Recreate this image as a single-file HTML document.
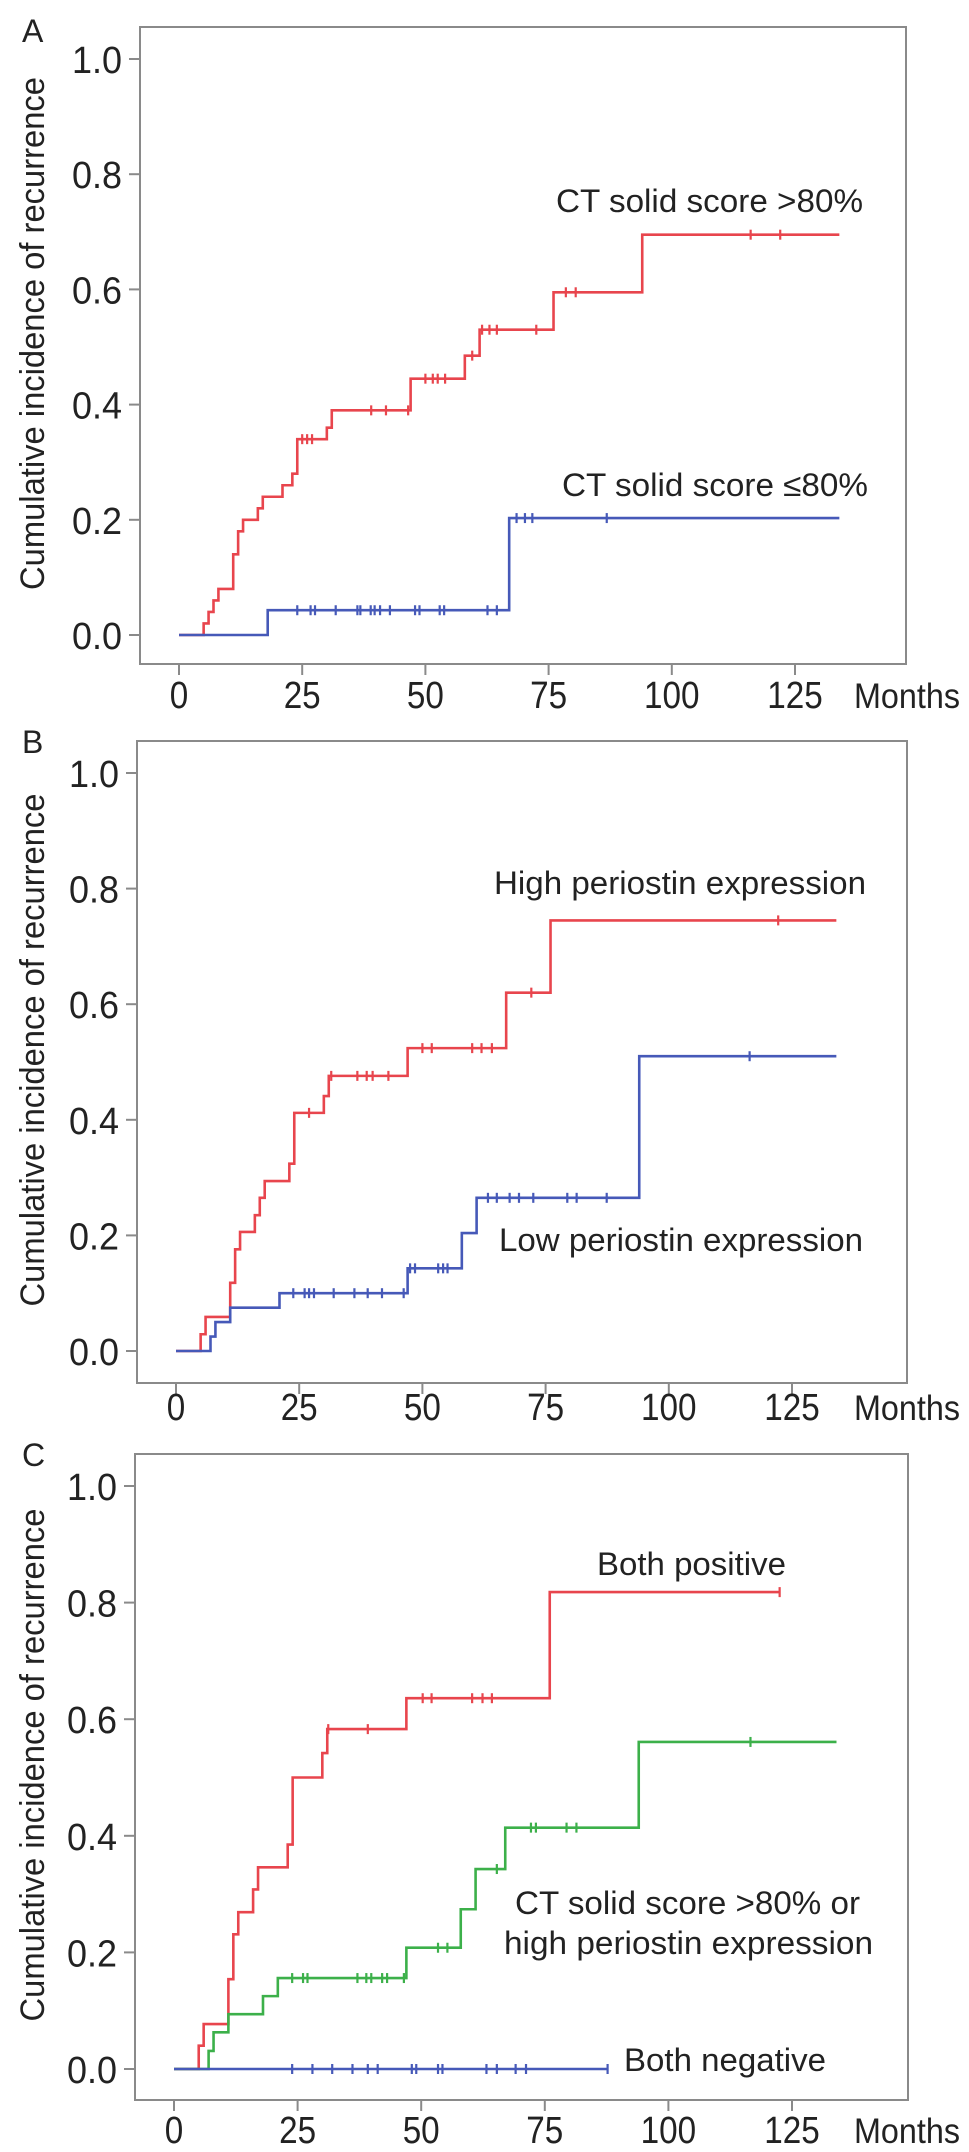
<!DOCTYPE html>
<html><head><meta charset="utf-8">
<style>
html,body{margin:0;padding:0;background:#fff;}
svg{display:block;}
text{font-family:"Liberation Sans",Arial,sans-serif;fill:#222;}
</style></head>
<body>
<svg id="fig" width="969" height="2152" viewBox="0 0 969 2152" xmlns="http://www.w3.org/2000/svg"></svg>
<script>
// ---------- DATA ----------
const xTicks = [0, 25, 50, 75, 100, 125];
const yTicks = [0.0, 0.2, 0.4, 0.6, 0.8, 1.0];
const yTickLabels = ["0.0", "0.2", "0.4", "0.6", "0.8", "1.0"];

// Panel A
const aHighTimes = [0, 5, 6, 7, 8, 11, 12, 13, 16, 17, 21, 23, 24, 30, 31, 47, 58, 61, 76, 94];
const aHighValues = [0, 0.02, 0.04, 0.06, 0.08, 0.14, 0.18, 0.20, 0.22, 0.24, 0.26, 0.28, 0.34, 0.36, 0.39, 0.445, 0.485, 0.53, 0.595, 0.695];
const aHighEnd = 134;
const aHighCensor = [25, 26, 27, 39, 42, 46.5, 50, 51.5, 52.5, 54, 59.5, 61.5, 63, 64.5, 72.5, 78.5, 80.5, 116, 122];
const aLowTimes = [0, 18, 67];
const aLowValues = [0, 0.043, 0.203];
const aLowEnd = 134;
const aLowCensor = [24, 26.7, 27.6, 31.8, 36.2, 36.8, 38.9, 39.7, 40.8, 42.8, 47.9, 48.8, 52.9, 53.8, 62.6, 64.5, 68.5, 70.2, 71.7, 86.8];

// Panel B
const bHighTimes = [0, 5, 6, 11, 12, 13, 16, 17, 18, 23, 24, 30, 31, 47, 67, 76];
const bHighValues = [0, 0.029, 0.059, 0.118, 0.176, 0.206, 0.235, 0.265, 0.294, 0.324, 0.412, 0.441, 0.476, 0.524, 0.62, 0.745];
const bHighEnd = 134;
const bHighCensor = [27, 31.5, 36.8, 38.7, 39.9, 43.1, 50, 51.9, 60.1, 62, 64.1, 72.1, 122.2];
const bLowTimes = [0, 7, 8, 11, 21, 47, 58, 61, 94];
const bLowValues = [0, 0.025, 0.05, 0.075, 0.1, 0.143, 0.204, 0.265, 0.51];
const bLowEnd = 134;
const bLowCensor = [23.8, 26.1, 27, 28, 32, 36.2, 38.9, 41.8, 46.2, 47.5, 48.5, 53.2, 54.2, 55.1, 63.3, 65.1, 67.7, 69.6, 72.5, 79.4, 81.3, 87.4, 116.4];

// Panel C
const cPosTimes = [0, 5, 6, 11, 12, 13, 16, 17, 23, 24, 30, 31, 47, 76];
const cPosValues = [0, 0.04, 0.077, 0.154, 0.231, 0.269, 0.308, 0.346, 0.385, 0.5, 0.542, 0.583, 0.636, 0.818];
const cPosEnd = 122.5;
const cPosCensor = [31.2, 39.2, 50.3, 52.1, 60.3, 62.4, 64.3, 122.5];
const cMixTimes = [0, 7, 8, 11, 18, 21, 47, 58, 61, 67, 94];
const cMixValues = [0, 0.031, 0.063, 0.094, 0.125, 0.156, 0.208, 0.274, 0.343, 0.414, 0.561];
const cMixEnd = 134;
const cMixCensor = [23.9, 26.1, 27, 37.1, 38.9, 39.9, 42.1, 43.1, 46.5, 53.4, 55.3, 65.3, 72.2, 73.2, 79.4, 81.4, 116.6];
const cNegTimes = [0];
const cNegValues = [0];
const cNegEnd = 87.7;
const cNegCensor = [23.9, 28, 32, 36.1, 39.2, 41.2, 48.1, 49, 53.4, 54.3, 63.2, 65.3, 69.1, 71.2, 87.7];

// ---------- DRAWING ----------
const NS = "http://www.w3.org/2000/svg";
const svg = document.getElementById("fig");
const RED = "#e8454d", BLUE = "#4659b8", GREEN = "#3cb04a";

function mk(tag, attrs, parent) {
  const e = document.createElementNS(NS, tag);
  for (const k in attrs) e.setAttribute(k, attrs[k]);
  (parent || svg).appendChild(e);
  return e;
}

function drawPanel(p) {
  const g = mk("g", {});
  
  
  const xs = m => p.x0 + (m / 125) * (p.x125 - p.x0);
  const ys = v => p.y0 - v * (p.y0 - p.y1);

  const lbl = mk("text", {x: 22, y: p.letterY, "font-size": 32}, g);
  lbl.textContent = p.id;
  
  

  const box = mk("rect", {x: p.bx0, y: p.by0, width: p.bx1 - p.bx0, height: p.by1 - p.by0, fill: "none", stroke: "#8a8a8a", "stroke-width": 2}, g);
  
  

  yTicks.forEach((v, i) => {
    const y = ys(v);
    const t = mk("line", {x1: p.bx0 - 11, x2: p.bx0, y1: y, y2: y, stroke: "#8a8a8a", "stroke-width": 2}, g);
    
    
    const tl = mk("text", {x: p.bx0 - 18, y: y + 14, "font-size": 38, "text-anchor": "end", textLength: 50, lengthAdjust: "spacingAndGlyphs"}, g);
    tl.textContent = yTickLabels[i];
    
    
  });
  xTicks.forEach(m => {
    const x = xs(m);
    const t = mk("line", {x1: x, x2: x, y1: p.by1, y2: p.by1 + 11, stroke: "#8a8a8a", "stroke-width": 2}, g);
    
    
    const s = String(m);
    const tl = mk("text", {x: x, y: p.xLabY, "font-size": 38, "text-anchor": "middle", textLength: 18.5 * s.length, lengthAdjust: "spacingAndGlyphs"}, g);
    tl.textContent = s;
    
    
  });
  const mo = mk("text", {x: 854, y: p.xLabY, "font-size": 35, textLength: 106, lengthAdjust: "spacingAndGlyphs"}, g);
  mo.textContent = "Months";
  
  

  const cy = (p.by0 + p.by1) / 2 - 12;
  const yt = mk("text", {x: 0, y: 0, "font-size": 34, "text-anchor": "middle", textLength: 513, lengthAdjust: "spacingAndGlyphs", transform: "translate(44," + cy + ") rotate(-90)"}, g);
  yt.textContent = "Cumulative incidence of recurrence";
  
  

  p.series.forEach(s => {
    let d = "M" + xs(s.times[0]) + "," + ys(s.values[0]);
    for (let i = 1; i < s.times.length; i++) {
      d += " H" + xs(s.times[i]) + " V" + ys(s.values[i]);
    }
    d += " H" + xs(s.end);
    const path = mk("path", {d: d, fill: "none", stroke: s.color, "stroke-width": 2.6}, g);
    
    
    s.censor.forEach(c => {
      let v = s.values[0];
      for (let i = 0; i < s.times.length; i++) if (s.times[i] <= c) v = s.values[i];
      const x = xs(c), y = ys(v);
      const cm = mk("line", {x1: x, x2: x, y1: y - 5, y2: y + 5, stroke: s.color, "stroke-width": 2.2}, g);
      
      
    });
  });

  p.labels.forEach(l => {
    const t = mk("text", {x: l.x, y: l.y, "font-size": 32, textLength: l.w, lengthAdjust: "spacingAndGlyphs"}, g);
    t.textContent = l.text;
    
    
  });
}

drawPanel({id: "A", letterY: 42, bx0: 140, bx1: 906, by0: 27, by1: 664, x0: 179, x125: 795, y0: 635, y1: 59, xLabY: 708,
  series: [
    {name: "solid-gt80", color: RED, times: aHighTimes, values: aHighValues, end: aHighEnd, censor: aHighCensor},
    {name: "solid-le80", color: BLUE, times: aLowTimes, values: aLowValues, end: aLowEnd, censor: aLowCensor}],
  labels: [
    {text: "CT solid score >80%", x: 556, y: 212, w: 307, name: "label-solid-gt80"},
    {text: "CT solid score \u226480%", x: 562, y: 496, w: 306, name: "label-solid-le80"}]});

drawPanel({id: "B", letterY: 753, bx0: 137, bx1: 907, by0: 741, by1: 1383, x0: 176, x125: 792, y0: 1351, y1: 773, xLabY: 1420,
  series: [
    {name: "high-periostin", color: RED, times: bHighTimes, values: bHighValues, end: bHighEnd, censor: bHighCensor},
    {name: "low-periostin", color: BLUE, times: bLowTimes, values: bLowValues, end: bLowEnd, censor: bLowCensor}],
  labels: [
    {text: "High periostin expression", x: 494, y: 894, w: 372, name: "label-high-periostin"},
    {text: "Low periostin expression", x: 499, y: 1251, w: 364, name: "label-low-periostin"}]});

drawPanel({id: "C", letterY: 1466, bx0: 135, bx1: 908, by0: 1454, by1: 2100, x0: 174, x125: 792, y0: 2069, y1: 1486, xLabY: 2143,
  series: [
    {name: "both-positive", color: RED, times: cPosTimes, values: cPosValues, end: cPosEnd, censor: cPosCensor},
    {name: "either-positive", color: GREEN, times: cMixTimes, values: cMixValues, end: cMixEnd, censor: cMixCensor},
    {name: "both-negative", color: BLUE, times: cNegTimes, values: cNegValues, end: cNegEnd, censor: cNegCensor}],
  labels: [
    {text: "Both positive", x: 597, y: 1575, w: 189, name: "label-both-positive"},
    {text: "CT solid score >80% or", x: 515, y: 1914, w: 345, name: "label-either-positive-line1"},
    {text: "high periostin expression", x: 504, y: 1954, w: 369, name: "label-either-positive-line2"},
    {text: "Both negative", x: 624, y: 2071, w: 202, name: "label-both-negative"}]});
</script>
</body></html>
